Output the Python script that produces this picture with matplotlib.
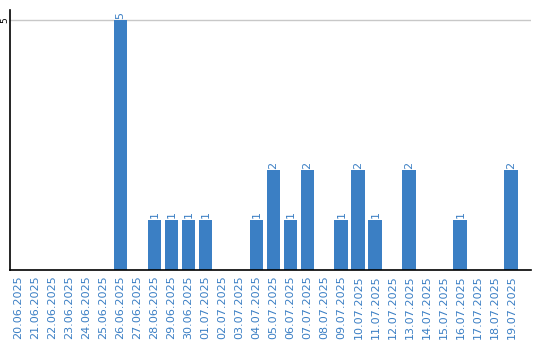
import numpy as np
import matplotlib
matplotlib.use('Agg')
import matplotlib.pyplot as plt

dates = ['20.06.2025', '21.06.2025', '22.06.2025', '23.06.2025', '24.06.2025',
         '25.06.2025', '26.06.2025', '27.06.2025', '28.06.2025', '29.06.2025',
         '30.06.2025', '01.07.2025', '02.07.2025', '03.07.2025', '04.07.2025',
         '05.07.2025', '06.07.2025', '07.07.2025', '08.07.2025', '09.07.2025',
         '10.07.2025', '11.07.2025', '12.07.2025', '13.07.2025', '14.07.2025',
         '15.07.2025', '16.07.2025', '17.07.2025', '18.07.2025', '19.07.2025']
counts = [0, 0, 0, 0, 0, 0, 5, 0, 1, 1, 1, 1, 0, 0, 1, 2, 1, 2, 0, 1, 2, 1, 0, 2, 0, 0, 1, 0, 0, 2]

blue = '#3b7fc4'

fig = plt.figure(figsize=(5.4, 3.4), dpi=100)
ax = fig.add_axes([10/540, 70/340, 521/540, 260/340])

x = np.arange(len(dates))
ax.bar(x, counts, width=0.82, color=blue, zorder=2)

for xi, c in zip(x, counts):
    if c > 0:
        ax.text(xi, c + 0.03, str(c), rotation=90, ha='center', va='bottom',
                color=blue, fontsize=8)

ax.set_xlim(-0.5, 30.15)
ax.set_ylim(0, 5.2)
ax.set_yticks([5])
ax.set_yticklabels(['5'], rotation=90, va='center', ha='center', fontsize=6.5)
ax.axhline(5, color='#c8c8c8', lw=1, zorder=1)
ax.set_xticks(x)
ax.set_xticklabels(dates, rotation=90, fontsize=8, color=blue)
ax.tick_params(length=0, pad=4)
ax.tick_params(axis='y', pad=3.6)
ax.spines['top'].set_visible(False)
ax.spines['right'].set_visible(False)
ax.spines['left'].set_linewidth(1.2)
ax.spines['bottom'].set_linewidth(1.2)

fig.savefig('out.png', dpi=100)
